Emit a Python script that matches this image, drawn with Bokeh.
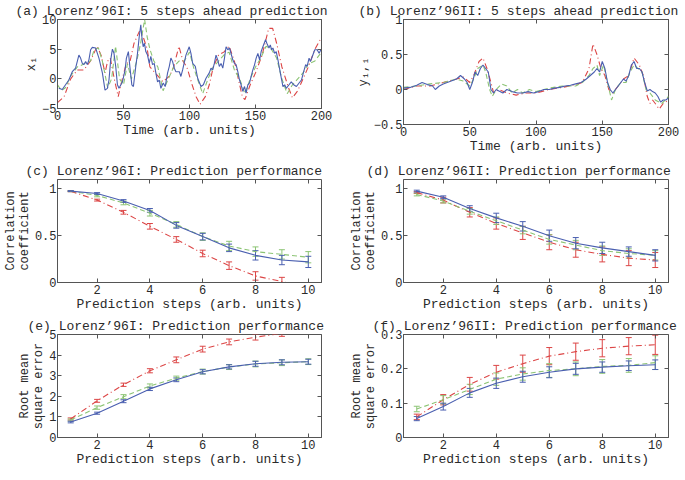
from bokeh.plotting import figure
from bokeh.layouts import column, row
from bokeh.models import (ColumnDataSource, Whisker, TeeHead, FixedTicker,
                          CustomJSTickFormatter, LinearAxis, Range1d)
from bokeh.embed import file_html
from bokeh.resources import INLINE

# ---------------- data ----------------
# (a) Lorenz'96I time series x_1
A_BLUE_T = [1.0, 3.6, 6.1, 8.6, 11.2, 13.7, 16.2, 17.5, 18.8, 20.0, 21.3, 22.6, 23.8, 25.1, 26.4, 28.9,
            30.2, 31.4, 34.0, 36.0, 37.8, 39.0, 40.3, 41.6, 42.8, 44.1, 45.4, 46.6, 49.2, 51.2, 52.2,
            53.7, 54.8, 56.3, 57.5, 59.3, 60.6, 61.9, 63.1, 63.9, 64.9, 65.9, 66.9, 68.2, 69.5, 70.7,
            72.0, 73.3, 74.5, 75.8, 77.1, 78.3, 80.1, 81.6, 83.4, 84.7, 85.9, 87.2, 88.5, 89.7, 92.3,
            93.5, 94.8, 97.3, 99.8, 101.1, 102.4, 104.4, 106.2, 108.7, 110.5, 112.5, 115.0, 116.3,
            117.6, 118.8, 120.1, 121.4, 122.6, 123.9, 125.2, 126.5, 127.7, 129.0, 130.3, 132.8, 134.1,
            135.3, 136.6, 137.9, 139.1, 140.4, 141.7, 142.9, 144.2, 145.5, 146.7, 148.0, 149.3, 150.5,
            151.8, 153.1, 154.3, 155.6, 157.6, 158.6, 160.2, 161.2, 162.2, 163.2, 164.5, 165.7, 167.0,
            168.8, 170.8, 172.1, 173.3, 175.4, 177.1, 178.9, 181.0, 183.0, 184.8, 186.5, 188.0, 189.1,
            190.6, 191.6, 193.1, 194.9, 196.7, 198.2, 199.5]
A_BLUE_V = [-1.6, -1.8, -1.0, -0.2, 1.2, 1.8, 4.0, 3.5, 2.6, 2.4, 2.9, 2.4, 3.2, 4.9, 5.3, 5.2,
            4.3, 3.5, 1.0, -1.9, -1.6, -0.2, 3.2, 5.0, 4.3, 2.1, -1.0, -1.6, -0.5, 1.5, 3.5,
            4.6, 2.1, -1.0, -1.3, 2.1, 4.3, 7.1, 9.1, 7.1, 5.4, 6.0, 4.6, 4.0, 2.6, 3.8,
            2.4, 2.6, 1.0, -0.5, -0.2, -1.6, -0.7, -1.3, 1.0, 2.1, 3.5, 2.9, 1.8, 1.2, 1.2,
            0.4, 1.5, 4.0, 5.4, 4.3, 2.6, 2.1, 0.1, -1.3, -1.0, 0.1, 1.0, 1.8,
            1.5, 2.6, 4.0, 3.2, 2.1, 2.6, 1.8, 3.5, 5.4, 4.9, 5.2, 3.2, 2.6,
            2.4, 1.2, -0.2, -1.0, -2.1, -1.3, -2.4, -1.0, -0.7, 0.4, 1.5, 2.4, 3.5,
            4.3, 3.2, 4.6, 5.4, 6.6, 6.0, 5.2, 5.7, 4.9, 5.2, 4.3, 4.6, 3.2,
            1.0, -1.3, -1.0, -1.6, -1.0, -0.5, -1.0, -1.3, -0.7, -0.2, 1.2, 2.4, 2.1,
            3.5, 2.9, 3.8, 4.9, 4.9, 4.3, 4.9]
A_RED_T = [0, 5, 10, 15, 20, 25, 30, 33, 36, 38, 40, 43, 46, 48, 52, 55, 58, 62, 65, 68, 70, 74, 78,
           80, 85, 88, 92, 95, 98, 102, 105, 108, 112, 115, 118, 122, 126, 130, 134, 137, 140, 142,
           146, 150, 155, 160, 163, 166, 170, 175, 178, 182, 186, 190, 195, 200]
A_RED_V = [-4.0, -3.0, 0.0, 1.5, 1.5, 3.0, 5.5, 4.0, 1.0, 3.0, 3.5, 0.0, -3.0, -1.0, 2.5, 3.0, 6.0,
           8.0, 7.0, 5.0, 2.0, 1.0, 0.0, -0.5, 0.5, 2.0, 5.5, 3.0, 2.0, -1.0, -3.0, -4.3, -3.0, -1.0,
           2.0, 4.0, 4.5, 5.5, 3.0, 0.0, -3.0, -3.5, -1.0, 1.0, 4.0, 8.5, 8.5, 6.0, 2.0, -1.5, -3.2,
           -2.0, 0.0, 2.0, 5.0, 7.0]
A_GREEN_T = [0, 3, 6, 10, 15, 20, 25, 28, 31, 34, 38, 41, 44, 47, 50, 53, 56, 60, 63, 66, 68, 70, 73,
             76, 80, 84, 88, 92, 96, 100, 103, 106, 110, 114, 118, 122, 126, 130, 134, 138, 142, 146,
             150, 154, 158, 162, 166, 170, 174, 178, 182, 186, 190, 195, 200]
A_GREEN_V = [-1.0, -2.0, -1.5, 0.5, 2.0, 2.5, 3.0, 5.0, 5.2, 3.0, -1.5, 0.0, 5.5, 0.0, -1.0, 2.5,
             0.0, 3.0, 6.0, 10.0, 7.0, 5.0, 3.0, 2.0, -2.0, 0.0, 2.0, 3.0, 3.0, 4.5, 2.0, 0.0, -2.5,
             0.0, 2.0, 3.0, 4.0, 4.5, 1.5, 0.0, -2.5, 0.0, 2.0, 3.5, 5.5, 5.0, 3.5, 0.0, -2.5, -1.0,
             0.0, 1.0, 2.5, 3.0, 4.5]

# (b) Lorenz'96II time series y_{1,1}
B_BLUE_T = [0, 5, 10, 14, 18, 22, 24, 27, 30, 33, 36, 40, 43, 46, 48, 50, 52, 54, 56, 58, 60, 62, 64,
            66, 68, 70, 72, 75, 78, 82, 86, 90, 94, 98, 102, 106, 110, 114, 118, 122, 126, 130, 134,
            138, 141, 144, 146, 148, 150, 152, 154, 156, 158, 160, 162, 164, 166, 168, 170, 172, 174,
            176, 178, 180, 182, 184, 186, 188, 190, 192, 194, 196, 198, 200]
B_BLUE_V = [0.02, 0.03, 0.06, 0.10, 0.07, 0.05, 0.0, 0.05, 0.08, 0.10, 0.12, 0.15, 0.20, 0.15, 0.10,
            0.0, 0.10, 0.25, 0.20, 0.30, 0.35, 0.30, 0.25, 0.0, -0.05, 0.0, -0.02, -0.05, 0.0, -0.03,
            -0.05, -0.05, -0.03, -0.05, -0.03, 0.0, 0.0, 0.02, 0.03, 0.05, 0.06, 0.08, 0.10, 0.15,
            0.20, 0.25, 0.30, 0.25, 0.40, 0.30, 0.10, 0.0, -0.05, 0.0, 0.05, 0.10, 0.15, 0.12, 0.20,
            0.35, 0.40, 0.30, 0.30, 0.25, 0.10, -0.02, 0.0, -0.03, -0.05, -0.10, -0.18, -0.15,
            -0.15, -0.12]
B_RED_T = [0, 10, 20, 30, 40, 45, 50, 53, 57, 60, 63, 66, 68, 72, 78, 85, 92, 100, 110, 120, 130,
           135, 140, 143, 146, 149, 152, 155, 158, 162, 166, 170, 174, 178, 181, 184, 186, 188, 190,
           193, 196, 200]
B_RED_V = [0.0, 0.05, 0.05, 0.10, 0.15, 0.18, 0.10, 0.20, 0.40, 0.45, 0.30, 0.10, -0.05, 0.0, -0.05,
           -0.08, -0.05, -0.05, 0.0, 0.03, 0.07, 0.10, 0.30, 0.65, 0.50, 0.30, 0.20, 0.0, -0.05,
           0.05, 0.15, 0.20, 0.45, 0.35, 0.20, -0.10, -0.20, -0.15, -0.20, -0.28, -0.20, -0.15]
B_GREEN_T = [0, 10, 20, 30, 40, 45, 50, 53, 56, 60, 62, 65, 67, 70, 74, 78, 82, 86, 90, 95, 100,
             110, 120, 130, 135, 140, 143, 146, 148, 151, 154, 157, 160, 164, 168, 171, 174, 177,
             180, 183, 186, 190, 195, 200]
B_GREEN_V = [0.03, 0.05, 0.08, 0.10, 0.15, 0.12, 0.05, 0.15, 0.30, 0.35, 0.25, 0.0, -0.10, 0.0,
             0.08, 0.05, -0.05, 0.0, -0.05, 0.0, -0.03, 0.02, 0.05, 0.05, 0.10, 0.20, 0.30, 0.35,
             0.20, 0.35, 0.10, -0.15, 0.0, 0.10, 0.10, 0.25, 0.35, 0.30, 0.25, 0.0, -0.05, -0.15,
             -0.20, -0.10]

STEPS = [1, 2, 3, 4, 5, 6, 7, 8, 9, 10]
# (c) Lorenz'96I correlation coefficient
C_BLUE = [0.976, 0.95, 0.87, 0.77, 0.61, 0.49, 0.37, 0.29, 0.24, 0.22]
C_BLUE_E = [0.005, 0.01, 0.015, 0.02, 0.03, 0.035, 0.04, 0.05, 0.05, 0.06]
C_GREEN = [0.975, 0.93, 0.85, 0.74, 0.62, 0.49, 0.39, 0.33, 0.30, 0.27]
C_GREEN_E = [0.005, 0.015, 0.02, 0.03, 0.03, 0.04, 0.05, 0.05, 0.05, 0.06]
C_RED = [0.975, 0.88, 0.75, 0.60, 0.46, 0.31, 0.18, 0.07, 0.01, -0.06]
C_RED_E = [0.005, 0.01, 0.02, 0.03, 0.03, 0.035, 0.04, 0.045, 0.045, 0.05]
# (d) Lorenz'96II correlation coefficient
D_BLUE = [0.976, 0.91, 0.79, 0.69, 0.60, 0.50, 0.42, 0.37, 0.33, 0.29]
D_BLUE_E = [0.01, 0.015, 0.03, 0.05, 0.05, 0.06, 0.06, 0.06, 0.05, 0.06]
D_GREEN = [0.94, 0.87, 0.76, 0.66, 0.56, 0.46, 0.40, 0.34, 0.31, 0.29]
D_GREEN_E = [0.015, 0.02, 0.03, 0.04, 0.04, 0.05, 0.05, 0.05, 0.05, 0.05]
D_RED = [0.96, 0.88, 0.75, 0.63, 0.53, 0.43, 0.35, 0.30, 0.26, 0.24]
D_RED_E = [0.01, 0.03, 0.05, 0.06, 0.07, 0.08, 0.08, 0.08, 0.08, 0.08]
# (e) Lorenz'96I RMSE
E_BLUE = [0.75, 1.18, 1.76, 2.36, 2.80, 3.19, 3.43, 3.58, 3.65, 3.68]
E_BLUE_E = [0.04, 0.05, 0.07, 0.08, 0.09, 0.1, 0.1, 0.12, 0.12, 0.12]
E_GREEN = [0.85, 1.45, 1.98, 2.50, 2.88, 3.20, 3.42, 3.57, 3.63, 3.68]
E_GREEN_E = [0.05, 0.08, 0.1, 0.1, 0.1, 0.12, 0.12, 0.14, 0.14, 0.14]
E_RED = [0.90, 1.78, 2.56, 3.24, 3.77, 4.29, 4.64, 4.87, 5.05, 5.2]
E_RED_E = [0.05, 0.07, 0.08, 0.1, 0.14, 0.14, 0.14, 0.14, 0.14, 0.14]
# (f) Lorenz'96II RMSE
F_BLUE = [0.055, 0.09, 0.13, 0.158, 0.177, 0.19, 0.20, 0.205, 0.209, 0.212]
F_BLUE_E = [0.006, 0.01, 0.013, 0.015, 0.016, 0.016, 0.016, 0.015, 0.014, 0.014]
F_GREEN = [0.083, 0.11, 0.14, 0.17, 0.185, 0.195, 0.20, 0.207, 0.21, 0.218]
F_GREEN_E = [0.008, 0.012, 0.015, 0.018, 0.018, 0.02, 0.02, 0.02, 0.02, 0.02]
F_RED = [0.06, 0.11, 0.155, 0.19, 0.215, 0.237, 0.25, 0.26, 0.266, 0.27]
F_RED_E = [0.008, 0.015, 0.02, 0.02, 0.025, 0.025, 0.025, 0.025, 0.025, 0.028]

TIME_TICKS = [0, 50, 100, 150, 200]
STEP_TICKS = [2, 4, 6, 8, 10]

# ---------------- styling ----------------
BLUE = "#4a5fb0"
RED = "#dc4646"
GREEN = "#8cc474"
FONT = "Liberation Mono"
TXT = "#2a2a2a"
FRAME = "#555555"

fmt_code = "return String(tick).replace('-', '\u2212');"


def make_fig(title, xr, yr, xticks, yticks, xlabel, ylabel, fw, fh, bl, br, bt, bb, toff):
    p = figure(title=title, x_range=Range1d(*xr), y_range=Range1d(*yr),
               frame_width=fw, frame_height=fh,
               min_border_left=bl, min_border_right=br, min_border_top=bt, min_border_bottom=bb,
               output_backend="svg", toolbar_location=None)
    p.grid.visible = False
    p.outline_line_color = FRAME
    p.outline_line_width = 1
    p.title.text_font = FONT
    p.title.text_font_size = "13px"
    p.title.text_font_style = "normal"
    p.title.text_color = TXT
    p.title.align = "left"
    p.title.offset = toff
    p.title.standoff = 2
    for ax, ticks, lab in ((p.xaxis[0], xticks, xlabel), (p.yaxis[0], yticks, ylabel)):
        ax.ticker = FixedTicker(ticks=ticks)
        ax.formatter = CustomJSTickFormatter(code=fmt_code)
        ax.axis_label = lab
        ax.axis_label_text_font = FONT
        ax.axis_label_text_font_style = "normal"
        ax.axis_label_text_color = TXT
        ax.axis_label_text_line_height = 1.0
        ax.major_label_text_font = FONT
        ax.major_label_text_color = TXT
        ax.axis_line_color = FRAME
        ax.major_tick_line_color = FRAME
        ax.major_tick_in = 4
        ax.major_tick_out = 0
        ax.minor_tick_line_color = None
    p.xaxis.axis_label_text_font_size = "13px"
    p.yaxis.axis_label_text_font_size = "12px"
    p.xaxis.major_label_text_font_size = "12px"
    p.yaxis.major_label_text_font_size = "12px"
    p.xaxis.major_label_standoff = 2
    p.xaxis.axis_label_standoff = 0
    p.yaxis.major_label_standoff = 1
    p.yaxis.axis_label_standoff = 0
    # mirror ticks on top and right
    for side, ticks in (("above", xticks), ("right", yticks)):
        ax = LinearAxis(ticker=FixedTicker(ticks=ticks), major_label_text_font_size="1px",
                        major_label_text_color=None,
                        axis_line_color=None, major_tick_line_color=FRAME, major_tick_in=4,
                        major_tick_out=0, minor_tick_line_color=None, major_label_standoff=0)
        p.add_layout(ax, side)
    return p


def add_series(p, x, y, color, dash, err=None):
    src = ColumnDataSource(dict(x=x, y=y))
    p.line("x", "y", source=src, line_color=color, line_width=1.1, line_dash=dash)
    if err is not None:
        up = [a + e for a, e in zip(y, err)]
        lo = [a - e for a, e in zip(y, err)]
        esrc = ColumnDataSource(dict(x=x, upper=up, lower=lo))
        w = Whisker(source=esrc, base="x", upper="upper", lower="lower",
                    line_color=color, line_width=1,
                    upper_head=TeeHead(size=6, line_color=color, line_width=1),
                    lower_head=TeeHead(size=6, line_color=color, line_width=1))
        p.add_layout(w)


SOLID = "solid"
DASHDOT = "6 3 1 3"
DASHED = "5 3"

LW, LBL, LBR = 264, 57, 19
RW, RBL, RBR = 265, 63, 16
BB = 20

pa = make_fig("(a) Lorenz\u201996I: 5 steps ahead prediction", (0, 200), (-5, 10), TIME_TICKS,
              [-5, 0, 5, 10], "Time (arb. units)", "x\u2081", LW, 89, LBL, LBR, 17, BB, -42)
add_series(pa, A_RED_T, A_RED_V, RED, DASHDOT)
add_series(pa, A_GREEN_T, A_GREEN_V, GREEN, DASHED)
add_series(pa, A_BLUE_T, A_BLUE_V, BLUE, SOLID)

pb = make_fig("(b) Lorenz\u201996II: 5 steps ahead prediction", (0, 200), (-0.5, 1), TIME_TICKS,
              [-0.5, 0, 0.5, 1], "Time (arb. units)", "y\u2081,\u2081", RW, 105, RBL, RBR, 17, BB, -45)
add_series(pb, B_RED_T, B_RED_V, RED, DASHDOT)
add_series(pb, B_GREEN_T, B_GREEN_V, GREEN, DASHED)
add_series(pb, B_BLUE_T, B_BLUE_V, BLUE, SOLID)

pc = make_fig("(c) Lorenz\u201996I: Prediction performance", (0.5, 10.5), (0, 1.1), STEP_TICKS,
              [0, 0.5, 1], "Prediction steps (arb. units)", "Correlation\ncoefficient",
              LW, 103, LBL, LBR, 23, BB, -32)
add_series(pc, STEPS, C_RED, RED, DASHDOT, C_RED_E)
add_series(pc, STEPS, C_GREEN, GREEN, DASHED, C_GREEN_E)
add_series(pc, STEPS, C_BLUE, BLUE, SOLID, C_BLUE_E)

pd_ = make_fig("(d) Lorenz\u201996II: Prediction performance", (0.5, 10.5), (0, 1.1), STEP_TICKS,
               [0, 0.5, 1], "Prediction steps (arb. units)", "Correlation\ncoefficient",
               RW, 103, RBL, RBR, 23, BB, -37)
add_series(pd_, STEPS, D_RED, RED, DASHDOT, D_RED_E)
add_series(pd_, STEPS, D_GREEN, GREEN, DASHED, D_GREEN_E)
add_series(pd_, STEPS, D_BLUE, BLUE, SOLID, D_BLUE_E)

pe = make_fig("(e) Lorenz\u201996I: Prediction performance", (0.5, 10.5), (0, 5), STEP_TICKS,
              [0, 1, 2, 3, 4, 5], "Prediction steps (arb. units)", "Root mean\nsquare error",
              LW, 103, LBL, LBR, 20, BB, -30)
add_series(pe, STEPS, E_RED, RED, DASHDOT, E_RED_E)
add_series(pe, STEPS, E_GREEN, GREEN, DASHED, E_GREEN_E)
add_series(pe, STEPS, E_BLUE, BLUE, SOLID, E_BLUE_E)

pf = make_fig("(f) Lorenz\u201996II: Prediction performance", (0.5, 10.5), (0, 0.3), STEP_TICKS,
              [0, 0.1, 0.2, 0.3], "Prediction steps (arb. units)", "Root mean\nsquare error",
              RW, 103, RBL, RBR, 20, BB, -31)
add_series(pf, STEPS, F_RED, RED, DASHDOT, F_RED_E)
add_series(pf, STEPS, F_GREEN, GREEN, DASHED, F_GREEN_E)
add_series(pf, STEPS, F_BLUE, BLUE, SOLID, F_BLUE_E)

layout = column(row(pa, pb), row(pc, pd_), row(pe, pf))

open("out.html", "w").write(file_html(layout, INLINE))
